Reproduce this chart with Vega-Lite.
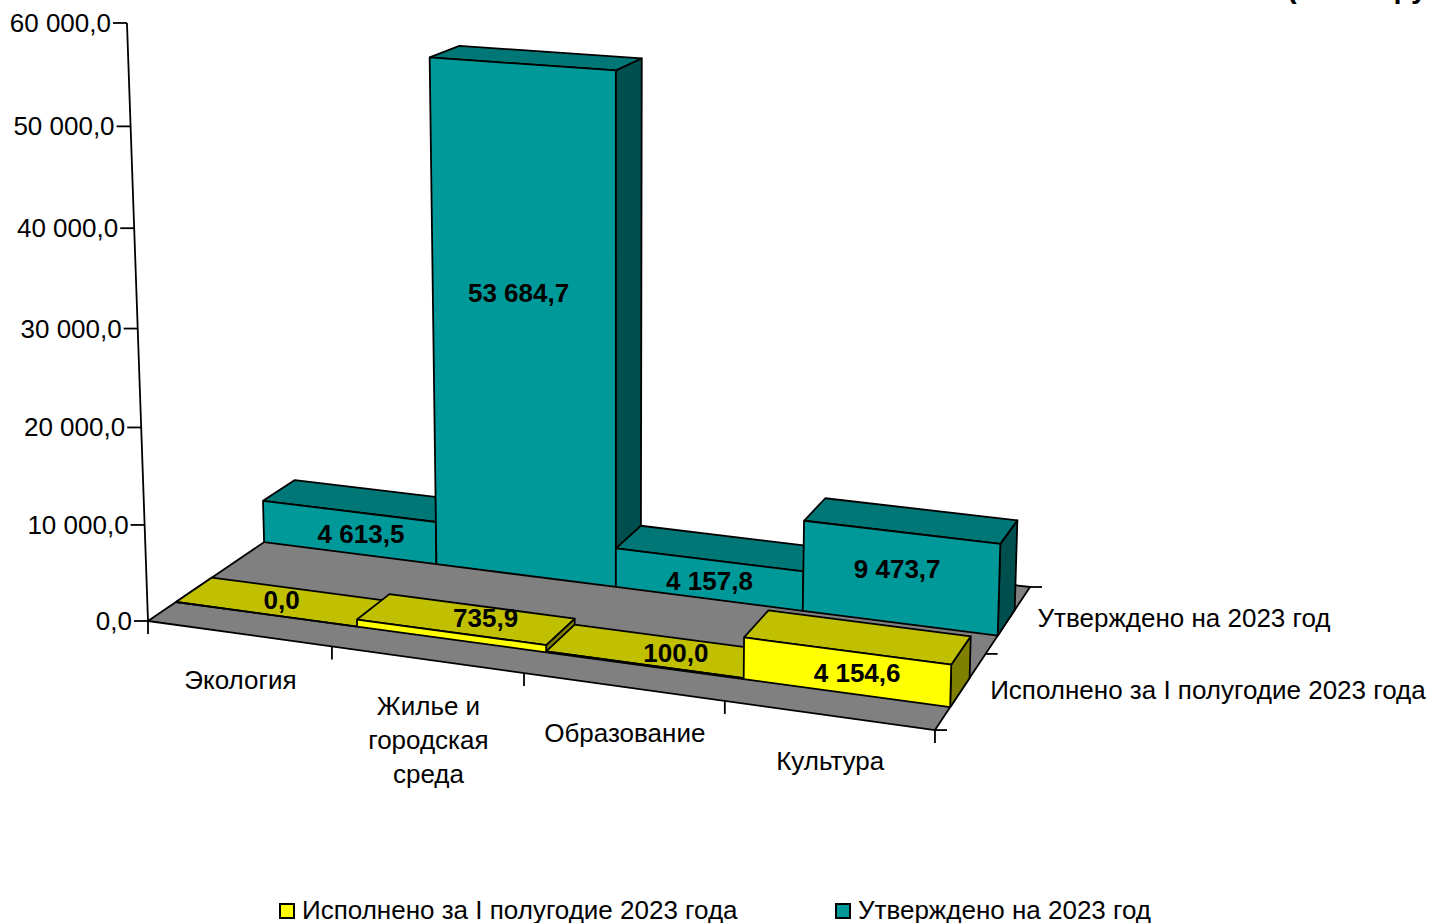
{
"$schema":"https://vega.github.io/schema/vega-lite/v6.json",
"width":1431,"height":923,
"autosize":{"type":"none"},
"padding":0,
"background":"white",
"config":{"view":{"stroke":null},"text":{"font":"Liberation Sans","fontSize":26,"color":"black"}},
"datasets":{"bars":[
{"category":"Экология","series":"Утверждено на 2023 год","value":4613.5,"label":"4 613,5"},
{"category":"Жилье и городская среда","series":"Утверждено на 2023 год","value":53684.7,"label":"53 684,7"},
{"category":"Образование","series":"Утверждено на 2023 год","value":4157.8,"label":"4 157,8"},
{"category":"Культура","series":"Утверждено на 2023 год","value":9473.7,"label":"9 473,7"},
{"category":"Экология","series":"Исполнено за I полугодие 2023 года","value":0,"label":"0,0"},
{"category":"Жилье и городская среда","series":"Исполнено за I полугодие 2023 года","value":735.9,"label":"735,9"},
{"category":"Образование","series":"Исполнено за I полугодие 2023 года","value":100,"label":"100,0"},
{"category":"Культура","series":"Исполнено за I полугодие 2023 года","value":4154.6,"label":"4 154,6"}
]},
"layer":[
{"data":{"values":[{"part":"floor"}]},
 "transform":[
  {"calculate":"[{k:0,s:0,w:0},{k:1,s:1,w:0},{k:2,s:1,w:1},{k:3,s:0,w:1},{k:4,s:0,w:0}]","as":"c"},
  {"flatten":["c"]},
  {"calculate":"1-0.085*datum.c.s+0.127*datum.c.w","as":"D"},
  {"calculate":"(707.5*datum.c.s+217.8*datum.c.w+148)/datum.D","as":"px"},
  {"calculate":"(47*datum.c.s-56.35*datum.c.w+621)/datum.D","as":"py"},
  {"calculate":"datum.c.k","as":"k"}
 ],
 "mark":{"type":"line","fill":"#808080","stroke":"black","strokeWidth":1.8,"strokeJoin":"round"},
 "encoding":{
  "x":{"field":"px","type":"quantitative","scale":{"domain":[0,1431]},"axis":null},
  "y":{"field":"py","type":"quantitative","scale":{"domain":[923,0]},"axis":null},
  "order":{"field":"k","type":"ordinal"}
 }},
{"data":{"values":[{"edge":0},{"edge":1},{"edge":2},{"edge":3},{"edge":4}]},
 "transform":[
  {"calculate":"datum.edge/4","as":"s"},
  {"calculate":"(707.5*datum.s+148)/(1-0.085*datum.s)","as":"px"},
  {"calculate":"(47*datum.s+621)/(1-0.085*datum.s)","as":"py"},
  {"calculate":"datum.py+13","as":"py2"}
 ],
 "mark":{"type":"rule","stroke":"black","strokeWidth":1.8},
 "encoding":{
  "x":{"field":"px","type":"quantitative","scale":{"domain":[0,1431]},"axis":null},
  "y":{"field":"py","type":"quantitative","scale":{"domain":[923,0]},"axis":null},
  "y2":{"field":"py2"}
 }},
{"data":{"values":[{"edge":0},{"edge":1},{"edge":2}]},
 "transform":[
  {"calculate":"datum.edge/2","as":"w"},
  {"calculate":"(855.5+217.8*datum.w)/(0.915+0.127*datum.w)","as":"px"},
  {"calculate":"(668-56.35*datum.w)/(0.915+0.127*datum.w)","as":"py"},
  {"calculate":"datum.px+12","as":"px2"}
 ],
 "mark":{"type":"rule","stroke":"black","strokeWidth":1.8},
 "encoding":{
  "x":{"field":"px","type":"quantitative","scale":{"domain":[0,1431]},"axis":null},
  "y":{"field":"py","type":"quantitative","scale":{"domain":[923,0]},"axis":null},
  "x2":{"field":"px2"}
 }},
{"data":{"values":[{"value":0},{"value":60000}]},
 "transform":[
  {"calculate":"datum.value/60000","as":"t"},
  {"calculate":"(148-26.5*datum.t)/(1-0.043*datum.t)","as":"px"},
  {"calculate":"(621-599*datum.t)/(1-0.043*datum.t)","as":"py"}
 ],
 "mark":{"type":"line","stroke":"black","strokeWidth":1.8},
 "encoding":{
  "x":{"field":"px","type":"quantitative","scale":{"domain":[0,1431]},"axis":null},
  "y":{"field":"py","type":"quantitative","scale":{"domain":[923,0]},"axis":null}
 }},
{"data":{"name":"vticks","values":[{"value":0,"label":"0,0"},{"value":10000,"label":"10 000,0"},{"value":20000,"label":"20 000,0"},{"value":30000,"label":"30 000,0"},{"value":40000,"label":"40 000,0"},{"value":50000,"label":"50 000,0"},{"value":60000,"label":"60 000,0"}]},
 "transform":[
  {"calculate":"datum.value/60000","as":"t"},
  {"calculate":"(148-26.5*datum.t)/(1-0.043*datum.t)","as":"px"},
  {"calculate":"(621-599*datum.t)/(1-0.043*datum.t)","as":"py"},
  {"calculate":"datum.px-14","as":"px2"}
 ],
 "layer":[
  {"mark":{"type":"rule","stroke":"black","strokeWidth":1.8},
   "encoding":{
    "x":{"field":"px","type":"quantitative","scale":{"domain":[0,1431]},"axis":null},
    "y":{"field":"py","type":"quantitative","scale":{"domain":[923,0]},"axis":null},
    "x2":{"field":"px2"}}},
  {"mark":{"type":"text","align":"right","baseline":"middle","dx":-16,"dy":1},
   "encoding":{
    "x":{"field":"px","type":"quantitative","scale":{"domain":[0,1431]},"axis":null},
    "y":{"field":"py","type":"quantitative","scale":{"domain":[923,0]},"axis":null},
    "text":{"field":"label"}}}
 ]},
{"data":{"name":"bars"},
 "transform":[
  {"calculate":"indexof(['Экология','Жилье и городская среда','Образование','Культура'],datum.category)","as":"i"},
  {"calculate":"datum.i/4","as":"s0"},
  {"calculate":"(datum.i+1)/4","as":"s1"},
  {"calculate":"indexof(datum.series,'Исполнено')==0?0.143:0.63","as":"w0"},
  {"calculate":"indexof(datum.series,'Исполнено')==0?0.335:0.82","as":"w1"},
  {"calculate":"datum.value/60000","as":"t"},
  {"calculate":"indexof(datum.series,'Исполнено')==0?'I':'U'","as":"sk"},
  {"calculate":"[{f:'side',k:0,s:datum.s1,w:datum.w0,h:0},{f:'side',k:1,s:datum.s1,w:datum.w1,h:0},{f:'side',k:2,s:datum.s1,w:datum.w1,h:datum.t},{f:'side',k:3,s:datum.s1,w:datum.w0,h:datum.t},{f:'side',k:4,s:datum.s1,w:datum.w0,h:0},{f:'top',k:0,s:datum.s0,w:datum.w0,h:datum.t},{f:'top',k:1,s:datum.s1,w:datum.w0,h:datum.t},{f:'top',k:2,s:datum.s1,w:datum.w1,h:datum.t},{f:'top',k:3,s:datum.s0,w:datum.w1,h:datum.t},{f:'top',k:4,s:datum.s0,w:datum.w0,h:datum.t},{f:'front',k:0,s:datum.s0,w:datum.w0,h:0},{f:'front',k:1,s:datum.s1,w:datum.w0,h:0},{f:'front',k:2,s:datum.s1,w:datum.w0,h:datum.t},{f:'front',k:3,s:datum.s0,w:datum.w0,h:datum.t},{f:'front',k:4,s:datum.s0,w:datum.w0,h:0}]","as":"c"},
  {"flatten":["c"]},
  {"calculate":"datum.c.f=='front'?datum.series:datum.c.f+datum.sk","as":"faceKey"},
  {"calculate":"datum.sk+datum.i+datum.c.f","as":"poly"},
  {"calculate":"datum.c.k","as":"k"},
  {"calculate":"1-0.085*datum.c.s+0.127*datum.c.w-0.043*datum.c.h","as":"D"},
  {"calculate":"(707.5*datum.c.s+217.8*datum.c.w-26.5*datum.c.h+148)/datum.D","as":"px"},
  {"calculate":"(47*datum.c.s-56.35*datum.c.w-602*datum.c.h+621)/datum.D","as":"py"}
 ],
 "mark":{"type":"line","stroke":"black","strokeWidth":1.8,"strokeJoin":"round"},
 "encoding":{
  "x":{"field":"px","type":"quantitative","scale":{"domain":[0,1431]},"axis":null},
  "y":{"field":"py","type":"quantitative","scale":{"domain":[923,0]},"axis":null},
  "detail":{"field":"poly"},
  "order":{"field":"k","type":"ordinal"},
  "fill":{"field":"faceKey","type":"nominal",
   "scale":{"domain":["Исполнено за I полугодие 2023 года","Утверждено на 2023 год","topI","sideI","topU","sideU"],"range":["#ffff00","#009999","#c0c000","#808000","#007777","#004f4f"]},
   "legend":{"values":["Исполнено за I полугодие 2023 года","Утверждено на 2023 год"],"title":null,"orient":"none","legendX":274,"legendY":898,"direction":"horizontal","columns":2,"columnPadding":92,"symbolType":"square","symbolSize":196,"symbolStrokeColor":"black","symbolStrokeWidth":2,"labelFont":"Liberation Sans","labelFontSize":26,"labelColor":"black","labelOffset":2,"labelLimit":600}}
 }},
{"data":{"name":"bars"},
 "transform":[
  {"calculate":"indexof(['Экология','Жилье и городская среда','Образование','Культура'],datum.category)","as":"i"},
  {"calculate":"(datum.i+0.5)/4","as":"s"},
  {"calculate":"indexof(datum.series,'Исполнено')==0?0.143:0.63","as":"w"},
  {"calculate":"datum.value/120000","as":"t"},
  {"calculate":"{'4 613,5':[12,3],'53 684,7':[-5,-30],'4 157,8':[1,3],'9 473,7':[-3,-8],'0,0':[16,-13],'735,9':[35,-17],'100,0':[32,-11],'4 154,6':[11,2]}[datum.label]","as":"nudge"},
  {"calculate":"1-0.085*datum.s+0.127*datum.w-0.043*datum.t","as":"D"},
  {"calculate":"(707.5*datum.s+217.8*datum.w-26.5*datum.t+148)/datum.D+datum.nudge[0]","as":"px"},
  {"calculate":"(47*datum.s-56.35*datum.w-602*datum.t+621)/datum.D+datum.nudge[1]","as":"py"}
 ],
 "mark":{"type":"text","fontWeight":"bold","fontSize":26,"align":"center","baseline":"middle"},
 "encoding":{
  "x":{"field":"px","type":"quantitative","scale":{"domain":[0,1431]},"axis":null},
  "y":{"field":"py","type":"quantitative","scale":{"domain":[923,0]},"axis":null},
  "text":{"field":"label"}
 }},
{"data":{"values":[{"category":"Экология","i":0},{"category":"Жилье и\nгородская\nсреда","i":1},{"category":"Образование","i":2},{"category":"Культура","i":3}]},
 "transform":[
  {"calculate":"(datum.i+0.5)/4","as":"s"},
  {"calculate":"(707.5*datum.s+148)/(1-0.085*datum.s)+1.5","as":"px"},
  {"calculate":"(47*datum.s+621)/(1-0.085*datum.s)","as":"py"}
 ],
 "mark":{"type":"text","align":"center","baseline":"top","dy":34,"lineBreak":"\n","lineHeight":34},
 "encoding":{
  "x":{"field":"px","type":"quantitative","scale":{"domain":[0,1431]},"axis":null},
  "y":{"field":"py","type":"quantitative","scale":{"domain":[923,0]},"axis":null},
  "text":{"field":"category"}
 }},
{"data":{"values":[{"series":"Исполнено за I полугодие 2023 года","w":0.25},{"series":"Утверждено на 2023 год","w":0.75}]},
 "transform":[
  {"calculate":"(855.5+217.8*datum.w)/(0.915+0.127*datum.w)","as":"px"},
  {"calculate":"(668-56.35*datum.w)/(0.915+0.127*datum.w)","as":"py"}
 ],
 "mark":{"type":"text","align":"left","baseline":"middle","dx":29,"dy":0},
 "encoding":{
  "x":{"field":"px","type":"quantitative","scale":{"domain":[0,1431]},"axis":null},
  "y":{"field":"py","type":"quantitative","scale":{"domain":[923,0]},"axis":null},
  "text":{"field":"series"}
 }},
{"data":{"values":[{"note":"(тысяч рублей)","xp":1287,"yp":-2}]},
 "mark":{"type":"text","align":"left","baseline":"alphabetic","fontWeight":"bold","fontSize":29},
 "encoding":{
  "x":{"field":"xp","type":"quantitative","scale":{"domain":[0,1431]},"axis":null},
  "y":{"field":"yp","type":"quantitative","scale":{"domain":[923,0]},"axis":null},
  "text":{"field":"note"}
 }}
]
}
